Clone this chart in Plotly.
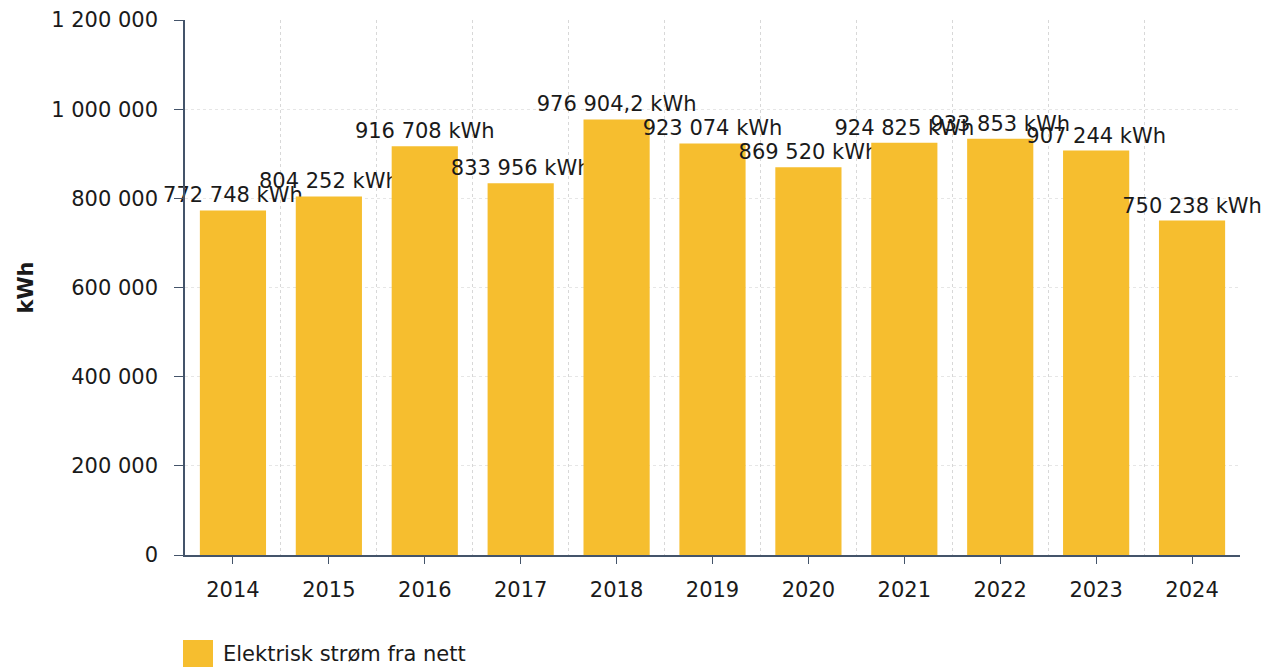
import plotly.graph_objects as go

years = [2014, 2015, 2016, 2017, 2018, 2019, 2020, 2021, 2022, 2023, 2024]
values = [772748, 804252, 916708, 833956, 976904.2, 923074, 869520, 924825, 933853, 907244, 750238]
series_name = "Elektrisk strøm fra nett"
y_ticks = [0, 200000, 400000, 600000, 800000, 1000000, 1200000]


def fmt(v):
    whole = int(v)
    s = f"{whole:,}".replace(",", " ")
    frac = round(v - whole, 1)
    if frac:
        s += "," + str(int(round(frac * 10)))
    return s + " kWh"


labels = [fmt(v) for v in values]
font = "DejaVu Sans, Verdana, sans-serif"
axis_col = "#44546a"
bar_col = "#F6BE2F"

W, H = 1266, 668
ML, MR, MT, MB = 185, 26, 20, 113
plot_h = H - MT - MB
plot_w = W - ML - MR

fig = go.Figure()
fig.add_trace(go.Bar(
    x=years, y=values, name=series_name,
    marker=dict(color=bar_col, line=dict(width=0)),
    text=labels, textposition="outside", constraintext="none",
    cliponaxis=False, textfont=dict(size=21, color="#1a1a1a", family=font),
    showlegend=False,
))

# legend drawn as swatch + label below the plot
def px_x(p):
    return (p - ML) / plot_w

def px_y(p):
    return (H - MB - p) / plot_h

fig.add_shape(type="rect", xref="paper", yref="paper",
              x0=px_x(183), x1=px_x(213), y0=px_y(667), y1=px_y(640),
              fillcolor=bar_col, line=dict(width=0))
fig.add_annotation(xref="paper", yref="paper", x=px_x(221), y=px_y(654),
                   xanchor="left", yanchor="middle", showarrow=False,
                   text=series_name, font=dict(size=21, family=font, color="#1a1a1a"))

fig.update_layout(
    width=W, height=H,
    margin=dict(l=ML, r=MR, t=MT, b=MB),
    plot_bgcolor="white", paper_bgcolor="white",
    separators=", ",
    bargap=0.31,
    font=dict(family=font, size=21, color="#1a1a1a"),
    showlegend=False,
    xaxis=dict(
        range=[years[0] - 0.5, years[-1] + 0.5],
        tickvals=years, ticktext=[str(y) for y in years],
        showgrid=False, zeroline=False, automargin=False,
        showline=True, linecolor=axis_col, linewidth=1.5,
        ticks="outside", ticklen=7, tickcolor=axis_col,
        ticklabelstandoff=8,
        tickfont=dict(size=21),
        minor=dict(tick0=years[0] - 0.5, dtick=1, showgrid=True,
                   gridcolor="#d8d8d8", griddash="dot", gridwidth=1, ticks=""),
    ),
    yaxis=dict(
        range=[0, 1200000], tickvals=y_ticks, tickformat=",d",
        showgrid=True, gridcolor="#e6e6e6", griddash="dot", gridwidth=1,
        zeroline=False, automargin=False,
        showline=True, linecolor=axis_col, linewidth=1.5,
        ticks="outside", ticklen=9, tickcolor=axis_col,
        ticklabelstandoff=12,
        tickfont=dict(size=21),
        title=dict(text="<b>kWh</b>", font=dict(size=21), standoff=12),
    ),
)

fig.write_html(
    "out.html",
    config={"displayModeBar": False},
    post_script="document.body.style.margin='0';document.body.style.overflow='hidden';",
)
